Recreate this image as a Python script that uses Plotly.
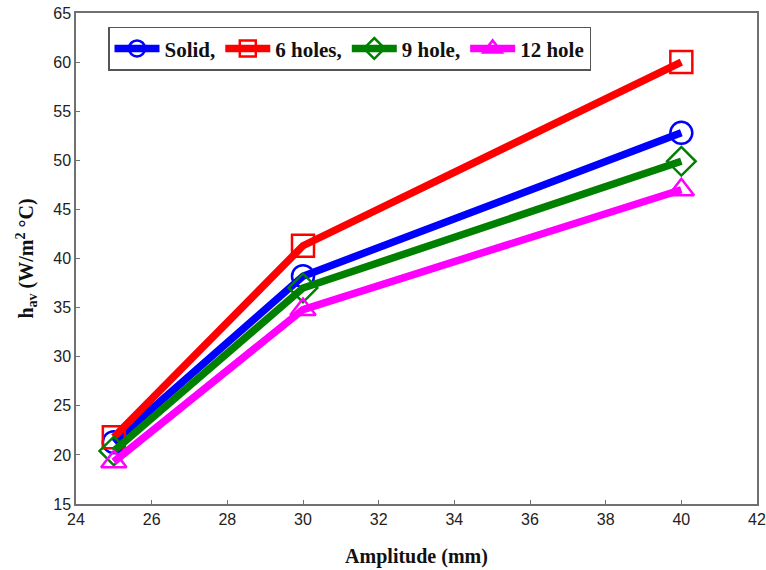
import plotly.graph_objects as go

amplitude = [25, 30, 40]
solid = [21.3, 38.2, 52.8]
holes6 = [21.8, 41.3, 60.0]
hole9 = [20.4, 37.0, 49.9]
hole12 = [19.3, 34.8, 47.0]

names = ["Solid,", "6 holes,", "9 hole,", "12 hole"]
colors = ["#0000ff", "#ff0000", "#008000", "#ff00ff"]
symbols = ["circle-open", "square-open", "diamond-open", "triangle-up-open"]
series = [solid, holes6, hole9, hole12]

fig = go.Figure()
for n, c, s, y in zip(names, colors, symbols, series):
    fig.add_trace(go.Scatter(
        x=amplitude, y=y, name="<b>" + n + "</b>", mode="lines+markers",
        line=dict(color=c, width=7.5),
        marker=dict(symbol=s, size=22, color=c, line=dict(width=2.5, color=c)),
    ))

axis_common = dict(
    showgrid=False, zeroline=False, showline=True, linecolor="#707070", linewidth=1.5,
    mirror=True, ticks="inside", tickcolor="#707070", ticklen=4, automargin=False,
    tickfont=dict(family="Liberation Sans, Arial", size=16, color="#222222"),
)
fig.update_xaxes(range=[24, 42], dtick=2, **axis_common,
                 title=dict(text="<b>Amplitude (mm)</b>",
                            font=dict(family="Liberation Serif, Times New Roman", size=20, color="#111111"),
                            standoff=22))
fig.update_yaxes(range=[15, 65], dtick=5, **axis_common,
                 title=dict(text="<b>h<sub>av</sub> (W/m<sup>2</sup> °C)</b>",
                            font=dict(family="Liberation Serif, Times New Roman", size=20, color="#111111"),
                            standoff=14))

fig.update_layout(
    width=766, height=570,
    margin=dict(l=76, r=9, t=13, b=66),
    plot_bgcolor="white", paper_bgcolor="white",
    legend=dict(orientation="h", x=0.047, y=0.972, xanchor="left", yanchor="top",
                bgcolor="white", bordercolor="#555555", borderwidth=1.5,
                font=dict(family="Liberation Serif, Times New Roman", size=21, color="#111111"),
                itemwidth=45, tracegroupgap=0),
    showlegend=True,
)

fig.write_html("out.html")
